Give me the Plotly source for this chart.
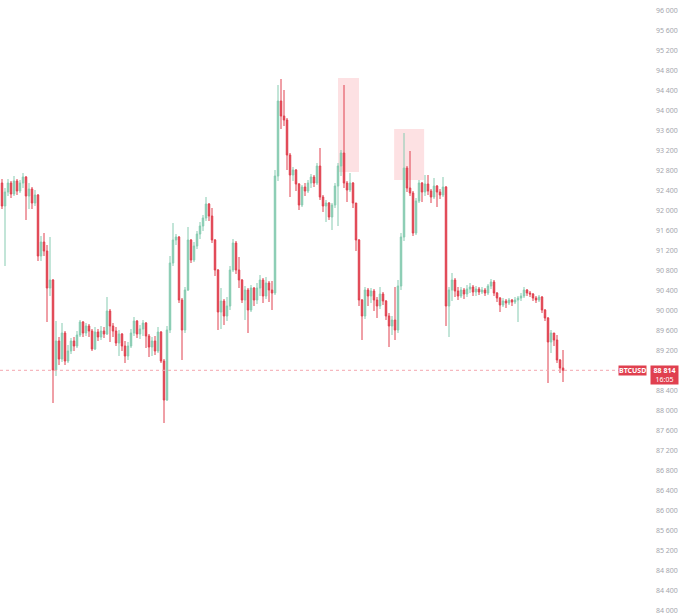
import plotly.graph_objects as go

# BTCUSD bars, oldest first
opens = [
    92560, 92100, 92380, 92560, 92340, 92600, 92400, 92560, 92680, 92300,
    92440, 92160, 92320, 91100, 91380, 91200, 90460, 90620, 88820, 89400,
    89040, 89560, 89000, 89200, 89400, 89300, 89520, 89780, 89560, 89700,
    89600, 89240, 89580, 89480, 89600, 89540, 90000, 89700, 89600, 89360,
    89540, 89300, 89100, 89300, 89560, 89800, 89540, 89640, 89760, 89500,
    89280, 89400, 89200, 89580, 89000, 88220, 89620, 90960, 91420, 91480,
    90220, 89620, 90420, 91420, 91020, 91300, 91540, 91700, 91860, 92140,
    91900, 91420, 90820, 89980, 90200, 89900, 90100, 90820, 91360, 90820,
    90620, 90220, 90420, 90020, 90460, 90220, 90460, 90620, 90300, 90560,
    90420, 90360, 92700, 94200, 93900, 93820, 93120, 92720, 92820, 92540,
    92120, 92480, 92400, 92560, 92680, 92560, 92900, 92280, 92100, 92160,
    91880, 92120, 92500, 92900, 93160, 92560, 92420, 92560, 92160, 91420,
    90220, 89900, 90420, 90300, 90400, 90220, 90100, 90340, 90200, 89900,
    89700, 89820, 89620, 90500, 91480, 92860, 92460, 92360, 91560, 92200,
    92560, 92380, 92540, 92400, 92280, 92500, 92380, 92320, 92480, 90100,
    90420, 90620, 90400, 90300, 90420, 90340, 90440, 90480, 90380, 90440,
    90380, 90420, 90360, 90500, 90580, 90360, 90260, 90120, 90200, 90160,
    90220, 90180, 90220, 90260, 90300, 90420, 90360, 90340, 90260, 90220,
    90280, 90020, 89860, 89380, 89560, 89420, 89020, 88860,
]
closes = [
    92100, 92380, 92560, 92340, 92600, 92400, 92560, 92680, 92300, 92440,
    92160, 92320, 91100, 91380, 91200, 90460, 90620, 88820, 89400, 89040,
    89560, 89000, 89200, 89400, 89300, 89520, 89780, 89560, 89700, 89600,
    89240, 89580, 89480, 89600, 89540, 90000, 89700, 89600, 89360, 89540,
    89300, 89100, 89300, 89560, 89800, 89540, 89640, 89760, 89500, 89280,
    89400, 89200, 89580, 89000, 88220, 89620, 90960, 91420, 91480, 90220,
    89620, 90420, 91420, 91020, 91300, 91540, 91700, 91860, 92140, 91900,
    91420, 90820, 89980, 90200, 89900, 90100, 90820, 91360, 90820, 90620,
    90220, 90420, 90020, 90460, 90220, 90460, 90620, 90300, 90560, 90420,
    90360, 92700, 94200, 93900, 93820, 93120, 92720, 92820, 92540, 92120,
    92480, 92400, 92560, 92680, 92560, 92900, 92280, 92100, 92160, 91880,
    92120, 92500, 92900, 93160, 92560, 92420, 92560, 92160, 91420, 90220,
    89900, 90420, 90300, 90400, 90220, 90100, 90340, 90200, 89900, 89700,
    89820, 89620, 90500, 91480, 92860, 92460, 92360, 91560, 92200, 92560,
    92380, 92540, 92400, 92280, 92500, 92380, 92320, 92480, 90100, 90420,
    90620, 90400, 90300, 90420, 90340, 90440, 90480, 90380, 90440, 90380,
    90420, 90360, 90500, 90580, 90360, 90260, 90120, 90200, 90160, 90220,
    90180, 90220, 90260, 90300, 90420, 90360, 90340, 90260, 90220, 90280,
    90020, 89860, 89380, 89560, 89420, 89020, 88860, 88814,
]
highs = [
    92640, 92460, 92640, 92600, 92700, 92640, 92620, 92760, 92700, 92560,
    92480, 92420, 92340, 91500, 91560, 91320, 91480, 90640, 89800, 89480,
    89760, 89600, 89320, 89460, 89480, 89600, 89820, 89800, 89760, 89740,
    89640, 89680, 89640, 89700, 89680, 90280, 90040, 89760, 89680, 89620,
    89560, 89400, 89380, 89640, 89880, 89820, 89720, 89820, 89780, 89540,
    89480, 89500, 89680, 89600, 89040, 89700, 91100, 91760, 91540, 91500,
    90260, 90480, 91680, 91440, 91380, 91600, 91780, 91920, 92280, 92160,
    92060, 91440, 90840, 90460, 90240, 90280, 90900, 91440, 91400, 91080,
    90640, 90500, 90460, 90520, 90480, 90560, 90720, 90660, 90680, 90600,
    90600, 92820, 94520, 94640, 94420, 93860, 93160, 92880, 92840, 92560,
    92520, 92560, 92620, 92740, 92720, 92960, 93260, 92320, 92220, 92180,
    92160, 92560, 92960, 93220, 94520, 92600, 92760, 92580, 92160, 91440,
    90240, 90480, 90460, 90460, 90440, 90280, 90480, 90380, 90220, 89960,
    89900, 90480, 90620, 91560, 93560, 92900, 93200, 92400, 92260, 92620,
    92580, 92720, 92720, 92440, 92660, 92520, 92440, 92680, 92500, 90480,
    90760, 90660, 90480, 90480, 90460, 90520, 90560, 90520, 90500, 90480,
    90480, 90460, 90540, 90640, 90620, 90380, 90280, 90260, 90240, 90260,
    90240, 90280, 90300, 90360, 90480, 90440, 90400, 90360, 90300, 90320,
    90300, 90040, 89880, 89620, 89560, 89520, 89040, 89220,
]
lows = [
    92040, 90900, 92300, 92260, 92300, 92320, 92360, 92460, 91820, 92040,
    92040, 92100, 91000, 91000, 91100, 89780, 90300, 88160, 88700, 88920,
    88980, 88920, 88960, 89140, 89200, 89260, 89480, 89480, 89500, 89480,
    89200, 89220, 89400, 89420, 89460, 89520, 89380, 89480, 89300, 89100,
    89200, 88960, 89020, 89260, 89500, 89460, 89440, 89500, 89260, 89080,
    89100, 89120, 89160, 88960, 87760, 88200, 89560, 90900, 91320, 90160,
    89020, 89560, 90400, 90960, 90980, 91240, 91440, 91600, 91800, 91800,
    91360, 90700, 89620, 89640, 89720, 89800, 90020, 90780, 90740, 90460,
    90160, 89820, 89560, 89980, 90100, 90140, 90300, 90160, 90240, 90180,
    90020, 90320, 92600, 93640, 93700, 92820, 92280, 92600, 92400, 92020,
    92080, 92300, 92360, 92460, 92480, 92520, 92220, 91980, 91780, 91820,
    91620, 92060, 91700, 92700, 92460, 92180, 92380, 92060, 91200, 90100,
    89420, 89840, 90100, 90160, 90000, 89860, 90040, 90120, 89820, 89280,
    89520, 89420, 89560, 90420, 91400, 92380, 92300, 91500, 91520, 92160,
    92180, 92300, 92320, 92160, 92240, 92080, 92240, 92280, 89700, 89480,
    90200, 90280, 90220, 90260, 90240, 90280, 90360, 90300, 90300, 90320,
    90340, 90300, 90320, 90440, 90300, 90180, 89980, 90080, 90060, 90120,
    90100, 90140, 89780, 90200, 90260, 90300, 90280, 90200, 90160, 90180,
    89960, 89800, 88560, 89160, 89300, 88960, 88760, 88580,
]

last_price = 88814
countdown = "16:05"
symbol = "BTCUSD"

price_ticks = [
    84000, 84400, 84800, 85200, 85600, 86000, 86400, 86800, 87200, 87600,
    88000, 88400, 89200, 89600, 90000, 90400, 90800, 91200, 91600, 92000,
    92400, 92800, 93200, 93600, 94000, 94400, 94800, 95200, 95600, 96000,
]
price_tick_labels = [f"{v:,}".replace(",", " ") for v in price_ticks]

# highlighted zones (bar index span, price span)
zones = [
    (112.0, 119.0, 92780, 94660),
    (130.7, 140.7, 92620, 93640),
]

UP = "#86cbb1"
DOWN = "#e0404f"

bars = list(range(len(closes)))

fig = go.Figure()
fig.add_trace(
    go.Candlestick(
        x=bars,
        open=opens,
        high=highs,
        low=lows,
        close=closes,
        increasing=dict(line=dict(color=UP, width=1), fillcolor=UP),
        decreasing=dict(line=dict(color=DOWN, width=1), fillcolor=DOWN),
        whiskerwidth=0,
        hoverinfo="skip",
        showlegend=False))

for x0, x1, y0, y1 in zones:
    fig.add_shape(
        type="rect", xref="x", yref="y",
        x0=x0, x1=x1, y0=y0, y1=y1,
        fillcolor="rgba(242,54,69,0.15)", line=dict(width=0),
        layer="below")

# last price line
fig.add_shape(
    type="line", xref="paper", yref="y",
    x0=0, x1=1, y0=last_price, y1=last_price,
    line=dict(color="#f4a7b0", width=1, dash="dot"))

fig.add_annotation(
    x=1, xref="paper", y=last_price, yref="y",
    xanchor="right", yanchor="middle",
    text=f"<b>{symbol}</b>", showarrow=False,
    font=dict(family="Noto Sans", size=7, color="white"),
    bgcolor=DOWN, borderpad=0, xshift=-1)
fig.add_annotation(
    x=1, xref="paper", y=last_price, yref="y",
    xanchor="left", yanchor="top",
    text=f"<b>{last_price:,}".replace(",", " ") + f"</b><br>{countdown}",
    showarrow=False, align="center", width=27,
    font=dict(family="Noto Sans", size=7, color="white"),
    bgcolor=DOWN, borderpad=0, xshift=2, yshift=5)

fig.update_layout(
    width=680, height=614,
    margin=dict(l=0, r=32, t=0, b=0),
    plot_bgcolor="white", paper_bgcolor="white",
    xaxis=dict(
        range=[-0.67, 215.33], showgrid=False, zeroline=False,
        showticklabels=False, rangeslider=dict(visible=False),
        fixedrange=True),
    yaxis=dict(
        side="right", range=[83940, 96220],
        tickvals=price_ticks, ticktext=price_tick_labels,
        showgrid=False, zeroline=False, ticks="",
        ticklabelstandoff=7, ticklabeloverflow="allow",
        tickfont=dict(family="Noto Sans", size=7, color="#a4a6ad"),
        fixedrange=True),
)

fig.write_html(
    "out.html",
    config={"displayModeBar": False},
    post_script="document.body.style.margin='0';")
